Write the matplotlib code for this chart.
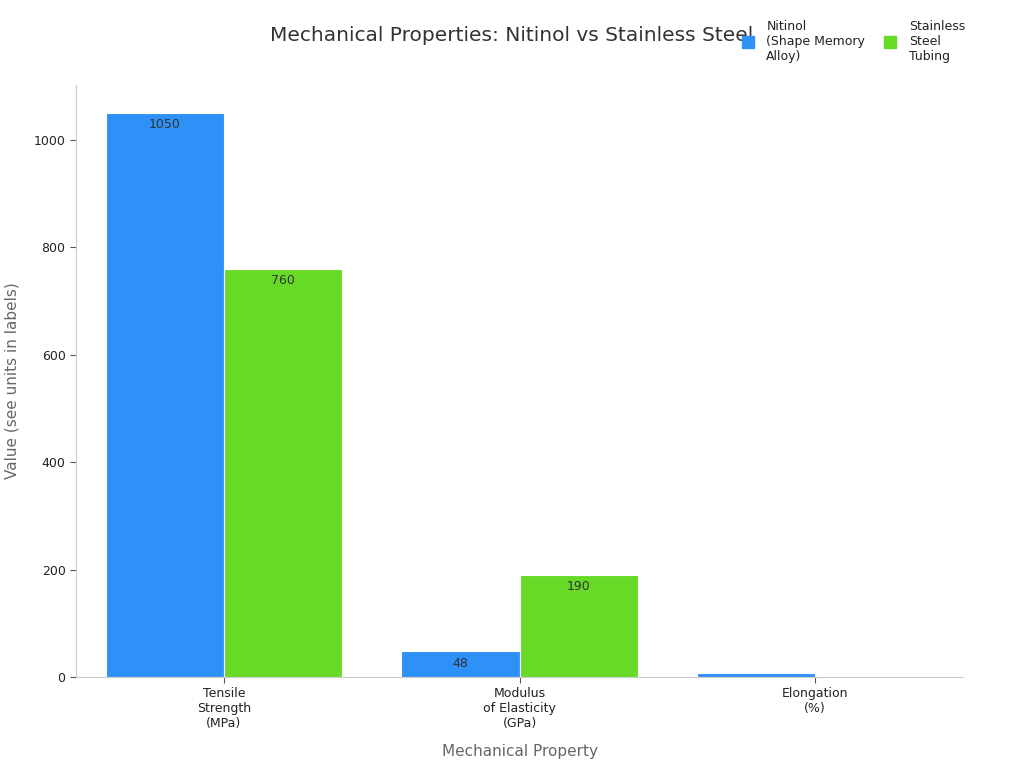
import numpy as np
import matplotlib.pyplot as plt
from matplotlib.lines import Line2D

categories = ['Tensile\nStrength\n(MPa)', 'Modulus\nof Elasticity\n(GPa)', 'Elongation\n(%)']
nitinol = [1050, 48, 7]
steel = [760, 190, np.nan]
series_names = ['Nitinol\n(Shape Memory\nAlloy)', 'Stainless\nSteel\nTubing']
colors = ['#2e91f8', '#66da26']

fig = plt.figure(figsize=(10.24, 7.68), dpi=100)
ax = fig.add_axes([76 / 1024, 1 - 677 / 768, (963 - 76) / 1024, (677 - 85) / 768])

x = np.arange(len(categories))
w = 0.4
b1 = ax.bar(x - w, nitinol, w, align='edge', color=colors[0], edgecolor='white', linewidth=0.8)
b2 = ax.bar(x, steel, w, align='edge', color=colors[1], edgecolor='white', linewidth=0.8)

# value labels sit just inside the bar top, clipped to the bar
for bars, vals in [(b1, nitinol), (b2, steel)]:
    for rect, v in zip(bars, vals):
        if np.isnan(v):
            continue
        t = ax.annotate(f'{v:g}', (rect.get_x() + rect.get_width() / 2, v), xytext=(0, -4),
                        textcoords='offset points', ha='center', va='top', fontsize=9,
                        color='#333333', annotation_clip=False)
        t.set_clip_on(True)
        t.set_clip_path(rect)

ax.set_xlim(-0.5, 2.5)
ax.set_ylim(0, 1102)
ax.set_xticks(x)
ax.set_xticklabels(categories, fontsize=9, color='#222222')
ax.set_yticks([0, 200, 400, 600, 800, 1000])
ax.tick_params(axis='y', labelsize=9, labelcolor='#222222', color='#555555', length=4)
ax.tick_params(axis='x', color='#555555', length=4)
for s in ['top', 'right']:
    ax.spines[s].set_visible(False)
for s in ['left', 'bottom']:
    ax.spines[s].set_color('#cccccc')

ax.set_xlabel('Mechanical Property', fontsize=11, color='#666666', labelpad=10)
ax.set_ylabel('Value (see units in labels)', fontsize=11, color='#666666', labelpad=10)

fig.text(0.5, 0.954, 'Mechanical Properties: Nitinol vs Stainless Steel', ha='center', va='center',
         fontsize=14.5, color='#333333')

handles = [Line2D([], [], linestyle='none', marker='s', markersize=9, color=c) for c in colors]
fig.legend(handles, series_names, loc='upper left', bbox_to_anchor=(730 / 1024, 1 - 9 / 768), ncol=2,
           frameon=False, fontsize=9, handlelength=1.0, columnspacing=1.5, handletextpad=1.0,
           labelspacing=0.55, labelcolor='#222222')

fig.savefig('out.png', dpi=100)
